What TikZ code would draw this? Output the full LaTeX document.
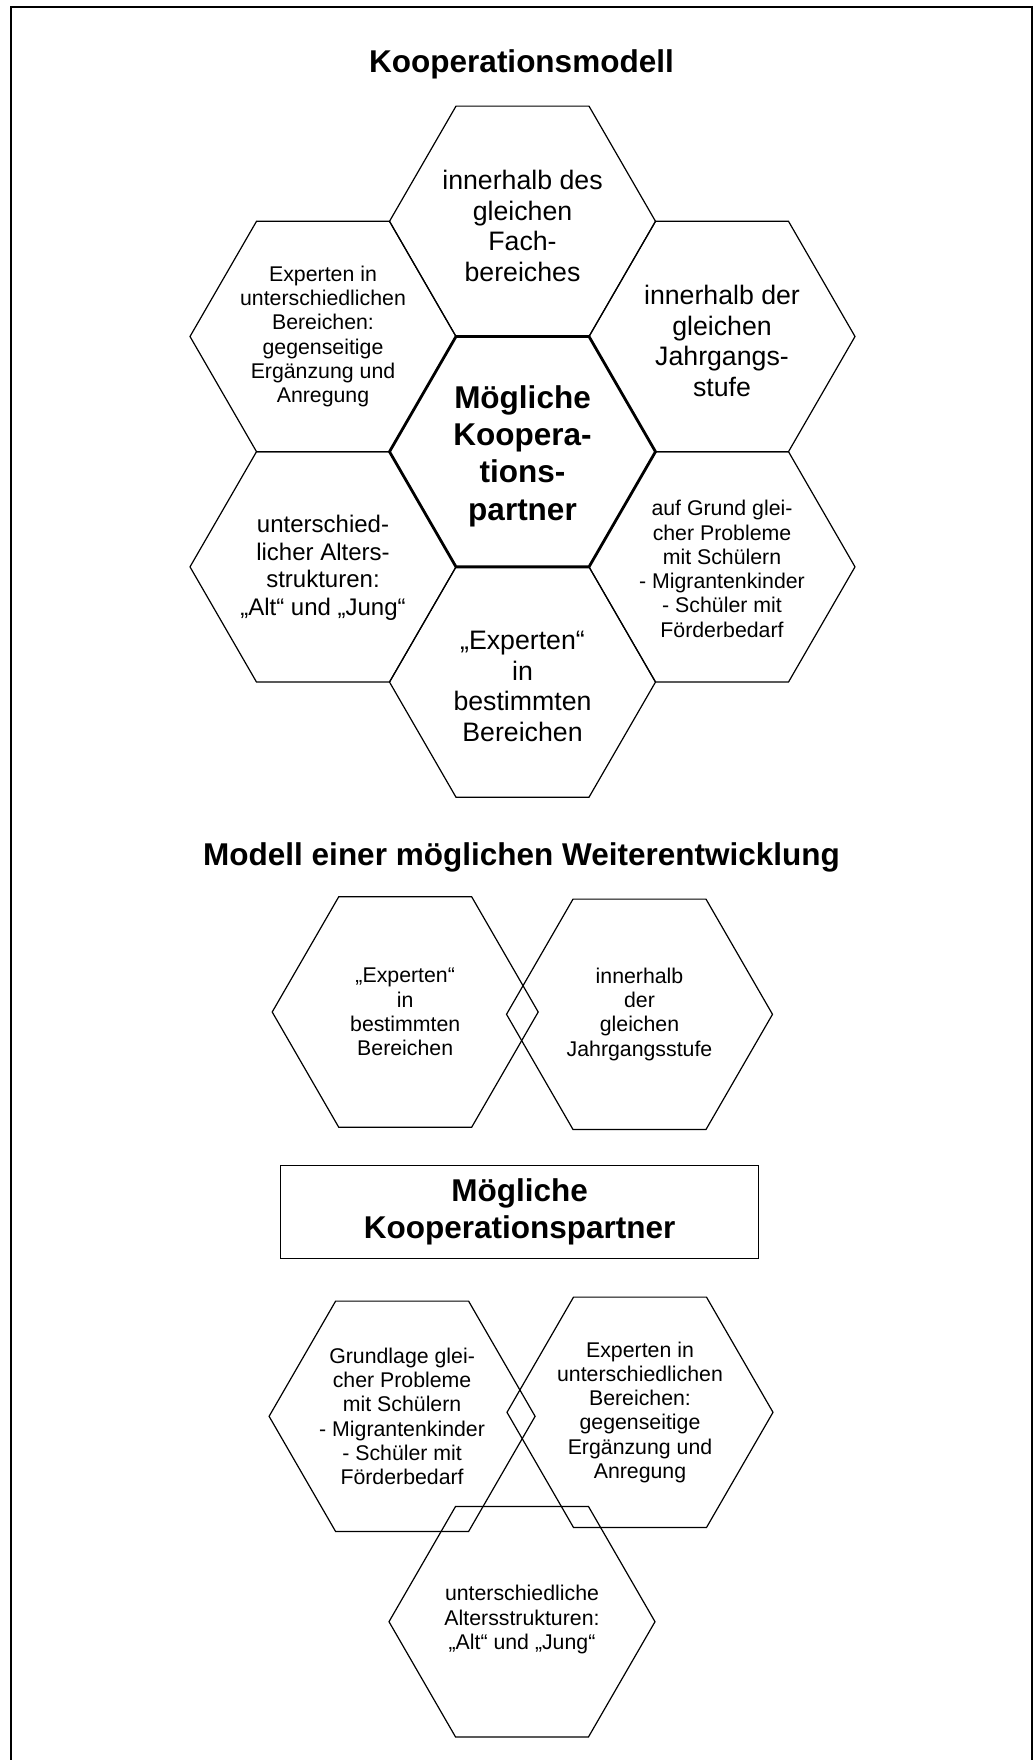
\documentclass[tikz,border=0pt]{standalone}
\usepackage{fontspec}
\setmainfont{Liberation Sans}
\begin{document}
\begin{tikzpicture}[x=1pt,y=-1pt,
  hexline/.style={draw, line width=1.2pt, line join=miter},
  corehex/.style={line width=2.8pt},
  label/.style={inner sep=0pt, align=center},
  txtL/.style={label, font=\fontsize{26.7}{30.7}\selectfont},
  txtM/.style={label, font=\fontsize{24}{27.8}\selectfont},
  txtS/.style={label, font=\fontsize{21.3}{24.3}\selectfont},
  txtB/.style={label, font=\bfseries\fontsize{31.5}{37.3}\selectfont},
  heading/.style={font=\bfseries\fontsize{31.5}{37.3}\selectfont, inner sep=0pt, anchor=base},
  framebox/.style={draw, line width=1.2pt, minimum width=477.7pt, minimum height=93.3pt,
    inner sep=0pt, align=center},
  pageframe/.style={line width=1.8pt}
]
% flat-topped regular hexagon of circumradius 133 around a named point
\newcommand\hexcell[2][]{%
  \draw[hexline,#1,shift={(#2)}] (133,0) -- (66.5,115.18) -- (-66.5,115.18)
    -- (-133,0) -- (-66.5,-115.18) -- (66.5,-115.18) -- cycle;}

\useasboundingbox (0,0) rectangle (1034,1760);

% page frame (open at the bottom)
\draw[pageframe] (11,1760) -- (11,7) -- (1032,7) -- (1032,1760);

% ---------- cooperation model: honeycomb ----------
\node[heading] (title1) at (521.5,73) {Kooperationsmodell};

\coordinate (fachC)   at (522.5,221.32);
\coordinate (expC)    at (323,336.5);
\coordinate (jahrC)   at (722,336.5);
\coordinate (coreC)   at (522.5,451.68);
\coordinate (alterC)  at (323,566.86);
\coordinate (probC)   at (722,566.86);
\coordinate (berC)    at (522.5,682.04);

\hexcell{fachC}
\hexcell{expC}
\hexcell{jahrC}
\hexcell{alterC}
\hexcell{probC}
\hexcell{berC}
\hexcell[corehex]{coreC}

\node[txtL, yshift=-4.5pt] (fach) at (fachC) {innerhalb des\\gleichen\\Fach-\\bereiches};
\node[txtS] (expert) at (expC) {Experten in\\unterschiedlichen\\Bereichen:\\gegenseitige\\Ergänzung und\\Anregung};
\node[txtL, yshift=-4.5pt] (jahrgang) at (jahrC) {innerhalb der\\gleichen\\Jahrgangs-\\stufe};
\node[txtM, yshift=-1pt] (alter) at (alterC) {unterschied-\\licher Alters-\\strukturen:\\„Alt“ und „Jung“};
\node[txtS, yshift=-2pt] (probleme) at (probC) {auf Grund glei-\\cher Probleme\\mit Schülern\\- Migrantenkinder\\- Schüler mit\\Förderbedarf};
\node[txtL, yshift=-4.5pt] (bereiche) at (berC) {„Experten“\\in\\bestimmten\\Bereichen};
\node[txtB, yshift=-4.5pt] (core) at (coreC) {Mögliche\\Koopera-\\tions-\\partner};

% ---------- further development ----------
\node[heading] (title2) at (521.5,865) {Modell einer möglichen Weiterentwicklung};

\coordinate (pairAC) at (405.2,1012);
\coordinate (pairBC) at (639.5,1014.3);
\hexcell{pairAC}
\hexcell{pairBC}
\node[txtS] (pairA) at (pairAC) {„Experten“\\in\\bestimmten\\Bereichen};
\node[txtS] (pairB) at (pairBC) {innerhalb\\der\\gleichen\\Jahrgangsstufe};

\node[framebox, txtB] (partner) at (519.6,1212) {Mögliche\\Kooperationspartner};

\coordinate (triAC) at (402.1,1416.3);
\coordinate (triBC) at (640,1412.3);
\coordinate (triCC) at (522,1621.7);
\hexcell{triAC}
\hexcell{triBC}
\hexcell{triCC}
\node[txtS] (triA) at (triAC) {Grundlage glei-\\cher Probleme\\mit Schülern\\- Migrantenkinder\\- Schüler mit\\Förderbedarf};
\node[txtS] (triB) at (triBC) {Experten in\\unterschiedlichen\\Bereichen:\\gegenseitige\\Ergänzung und\\Anregung};
\node[txtS, yshift=2pt] (triC) at (triCC) {unterschiedliche\\Altersstrukturen:\\„Alt“ und „Jung“};
\end{tikzpicture}
\end{document}
